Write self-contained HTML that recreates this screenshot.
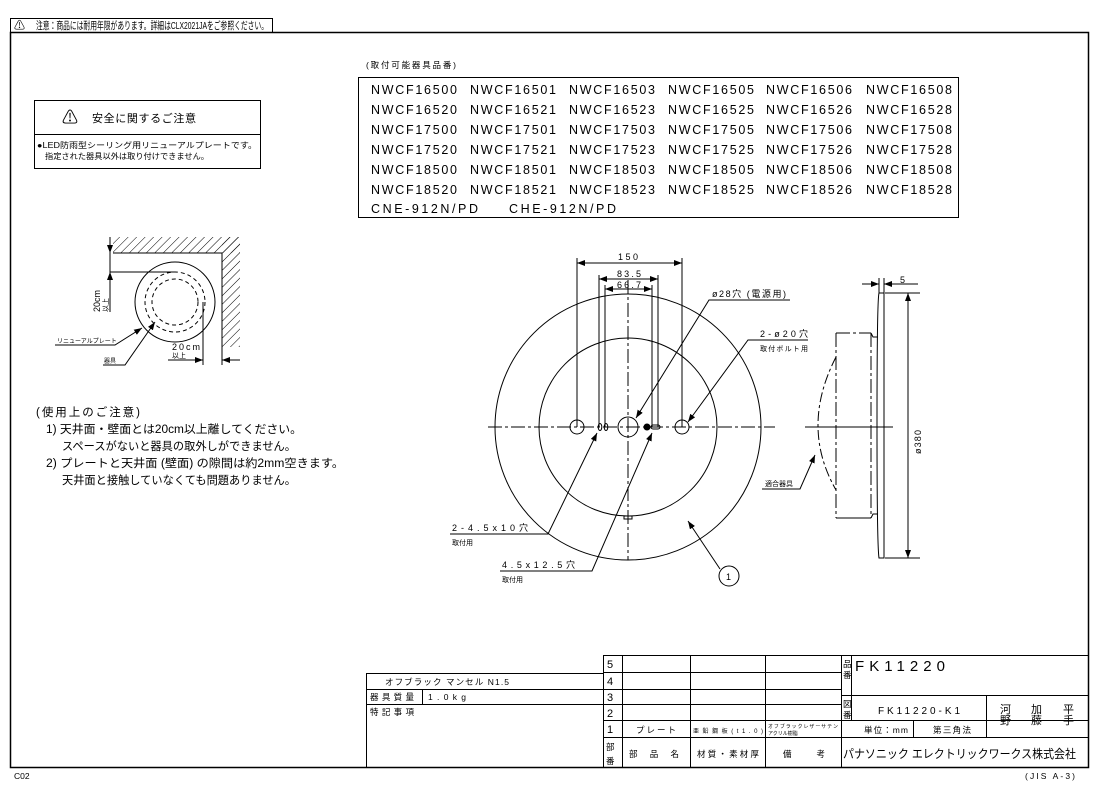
<!DOCTYPE html>
<html><head><meta charset="utf-8"><style>
body{margin:0;background:#fff}
svg{display:block}
text{font-family:"Liberation Sans","Noto Sans CJK JP",sans-serif;fill:#000}
</style></head><body>
<svg width="1100" height="788" viewBox="0 0 1100 788" xmlns="http://www.w3.org/2000/svg">
<defs>
<pattern id="h" width="6" height="6" patternUnits="userSpaceOnUse" patternTransform="rotate(45)"><line x1="0" y1="0" x2="0" y2="6" stroke="#000" stroke-width="1"/></pattern>
<marker id="a" markerWidth="8" markerHeight="6" refX="8" refY="3" orient="auto"><path d="M0,0 L8,3 L0,6 z" fill="#000"/></marker>
<marker id="b" markerWidth="8" markerHeight="6" refX="0" refY="3" orient="auto"><path d="M8,0 L0,3 L8,6 z" fill="#000"/></marker>
</defs>
<g fill="none" stroke="#000" stroke-width="1">
<rect x="10.5" y="32.5" width="1078" height="735" stroke-width="1.5"/>
<polyline points="10.5,32.5 10.5,18.5 272.5,18.5 272.5,32.5"/>
<rect x="34.5" y="100.5" width="226" height="68"/>
<line x1="34.5" y1="134.5" x2="260.5" y2="134.5"/>
<rect x="358.5" y="77.5" width="600" height="140"/>
<rect x="113" y="237" width="127" height="16" fill="url(#h)" stroke="none"/>
<rect x="222" y="237" width="18" height="110" fill="url(#h)" stroke="none"/>
<polyline points="113,253 222,253 222,347"/>
<circle cx="175" cy="302" r="40"/>
<circle cx="175" cy="302" r="30" stroke-dasharray="4,3"/>
<circle cx="175" cy="302" r="23" stroke-dasharray="4,3"/>
<line x1="110" y1="237" x2="110" y2="312"/>
<line x1="110" y1="272" x2="175" y2="272"/>
<line x1="110" y1="246" x2="110" y2="253" marker-end="url(#a)"/>
<line x1="110" y1="280" x2="110" y2="272" marker-end="url(#a)"/>
<line x1="203" y1="302" x2="203" y2="365"/>
<line x1="222" y1="347" x2="222" y2="365"/>
<line x1="168" y1="360" x2="203" y2="360" marker-end="url(#a)"/>
<line x1="240" y1="360" x2="222" y2="360" marker-end="url(#a)"/>
<polyline points="55,345 115,345 142,328" marker-end="url(#a)"/>
<polyline points="103,365 125,365 155,322" marker-end="url(#a)"/>
<circle cx="628" cy="427" r="133"/>
<circle cx="628" cy="427" r="89"/>
<line x1="488" y1="427" x2="775" y2="427" stroke-dasharray="14,3,3,3"/>
<line x1="628" y1="280" x2="628" y2="560" stroke-dasharray="14,3,3,3"/>
<circle cx="577" cy="427" r="7"/>
<circle cx="682" cy="427" r="7"/>
<circle cx="628" cy="427" r="10"/>
<ellipse cx="600" cy="427" rx="1.8" ry="3.5"/>
<ellipse cx="606" cy="427" rx="1.8" ry="3.5"/>
<circle cx="647" cy="427" r="3" fill="#000"/>
<rect x="651" y="425" width="9" height="4" rx="2"/>
<rect x="624" y="516" width="8" height="3"/>
<line x1="577" y1="258" x2="577" y2="427"/>
<line x1="682" y1="258" x2="682" y2="427"/>
<line x1="599" y1="275" x2="599" y2="427"/>
<line x1="658" y1="275" x2="658" y2="427"/>
<line x1="605" y1="285" x2="605" y2="427"/>
<line x1="652" y1="285" x2="652" y2="427"/>
<line x1="577" y1="263" x2="682" y2="263" marker-start="url(#b)" marker-end="url(#a)"/>
<line x1="599" y1="279" x2="658" y2="279" marker-start="url(#b)" marker-end="url(#a)"/>
<line x1="605" y1="289" x2="652" y2="289" marker-start="url(#b)" marker-end="url(#a)"/>
<polyline points="790,300 709,300 636,418" marker-end="url(#a)"/>
<polyline points="808,340 748,340 688,422" marker-end="url(#a)"/>
<polyline points="450,534 548,534 597,433" marker-end="url(#a)"/>
<polyline points="500,571 592,571 652,433" marker-end="url(#a)"/>
<line x1="720" y1="569" x2="688" y2="521" marker-end="url(#a)"/>
<circle cx="729" cy="576" r="10"/>
<path d="M879,293 L884,293 L884,558 L879,558 Q877,545 877,425 Q877,300 879,293 z"/>
<line x1="836" y1="333" x2="871" y2="333" stroke-dasharray="14,3,3,3"/>
<line x1="836" y1="518" x2="871" y2="518"/>
<line x1="836" y1="333" x2="836" y2="518" stroke-dasharray="14,3,3,3"/>
<line x1="871" y1="333" x2="871" y2="518" stroke-dasharray="14,3,3,3"/>
<polyline points="871,333 873,337 878,337"/>
<polyline points="871,518 873,514 878,514"/>
<path d="M836,357 Q800,427 836,490" stroke-dasharray="10,3,3,3"/>
<line x1="805" y1="427" x2="893" y2="427"/>
<line x1="885" y1="293" x2="920" y2="293"/>
<line x1="885" y1="558" x2="920" y2="558"/>
<line x1="908" y1="293" x2="908" y2="558" marker-start="url(#b)" marker-end="url(#a)"/>
<line x1="879" y1="278" x2="879" y2="293"/>
<line x1="884" y1="278" x2="884" y2="293"/>
<line x1="862" y1="284" x2="879" y2="284" marker-end="url(#a)"/>
<line x1="918" y1="284" x2="884" y2="284" marker-end="url(#a)"/>
<polyline points="762,489 800,489 815,455" marker-end="url(#a)"/>
<rect x="366.5" y="673.5" width="237" height="94"/>
<line x1="366.5" y1="689.5" x2="603.5" y2="689.5"/>
<line x1="366.5" y1="704.5" x2="603.5" y2="704.5"/>
<line x1="422.5" y1="689.5" x2="422.5" y2="704.5"/>
<rect x="603.5" y="655.5" width="485" height="112"/>
<line x1="622.5" y1="655.5" x2="622.5" y2="767.5"/>
<line x1="690.5" y1="655.5" x2="690.5" y2="767.5"/>
<line x1="765.5" y1="655.5" x2="765.5" y2="767.5"/>
<line x1="841.5" y1="655.5" x2="841.5" y2="767.5"/>
<line x1="851.5" y1="655.5" x2="851.5" y2="720.5"/>
<line x1="603.5" y1="672.5" x2="841.5" y2="672.5"/>
<line x1="603.5" y1="689.5" x2="841.5" y2="689.5"/>
<line x1="603.5" y1="704.5" x2="841.5" y2="704.5"/>
<line x1="603.5" y1="720.5" x2="1088.5" y2="720.5"/>
<line x1="603.5" y1="737.5" x2="1088.5" y2="737.5"/>
<line x1="841.5" y1="695.5" x2="1088.5" y2="695.5"/>
<line x1="986.5" y1="695.5" x2="986.5" y2="737.5"/>
<line x1="913.5" y1="720.5" x2="913.5" y2="737.5"/>
</g>
<g font-size="9">
<text x="14" y="29" font-size="11">⚠</text>
<text x="36" y="29" font-size="10.5" textLength="232" lengthAdjust="spacingAndGlyphs">注意：商品には耐用年限があります。詳細はCLX2021JAをご参照ください。</text>
<text x="62" y="123" font-size="16">⚠</text>
<text x="92" y="122" font-size="11" textLength="104">安全に関するご注意</text>
<text x="37" y="148" font-size="8" textLength="220" lengthAdjust="spacingAndGlyphs">●LED防雨型シーリング用リニューアルプレートです。</text>
<text x="45" y="159" font-size="8" textLength="164" lengthAdjust="spacingAndGlyphs">指定された器具以外は取り付けできません。</text>
<text x="366" y="68" font-size="8.5" textLength="90">(取付可能器具品番)</text>
</g>
<g font-size="12.5">
<text x="371" y="94" textLength="86">NWCF16500</text><text x="470" y="94" textLength="86">NWCF16501</text><text x="569" y="94" textLength="86">NWCF16503</text><text x="668" y="94" textLength="86">NWCF16505</text><text x="766" y="94" textLength="86">NWCF16506</text><text x="866" y="94" textLength="86">NWCF16508</text>
<text x="371" y="114" textLength="86">NWCF16520</text><text x="470" y="114" textLength="86">NWCF16521</text><text x="569" y="114" textLength="86">NWCF16523</text><text x="668" y="114" textLength="86">NWCF16525</text><text x="766" y="114" textLength="86">NWCF16526</text><text x="866" y="114" textLength="86">NWCF16528</text>
<text x="371" y="134" textLength="86">NWCF17500</text><text x="470" y="134" textLength="86">NWCF17501</text><text x="569" y="134" textLength="86">NWCF17503</text><text x="668" y="134" textLength="86">NWCF17505</text><text x="766" y="134" textLength="86">NWCF17506</text><text x="866" y="134" textLength="86">NWCF17508</text>
<text x="371" y="154" textLength="86">NWCF17520</text><text x="470" y="154" textLength="86">NWCF17521</text><text x="569" y="154" textLength="86">NWCF17523</text><text x="668" y="154" textLength="86">NWCF17525</text><text x="766" y="154" textLength="86">NWCF17526</text><text x="866" y="154" textLength="86">NWCF17528</text>
<text x="371" y="174" textLength="86">NWCF18500</text><text x="470" y="174" textLength="86">NWCF18501</text><text x="569" y="174" textLength="86">NWCF18503</text><text x="668" y="174" textLength="86">NWCF18505</text><text x="766" y="174" textLength="86">NWCF18506</text><text x="866" y="174" textLength="86">NWCF18508</text>
<text x="371" y="194" textLength="86">NWCF18520</text><text x="470" y="194" textLength="86">NWCF18521</text><text x="569" y="194" textLength="86">NWCF18523</text><text x="668" y="194" textLength="86">NWCF18525</text><text x="766" y="194" textLength="86">NWCF18526</text><text x="866" y="194" textLength="86">NWCF18528</text>
<text x="371" y="213" textLength="107">CNE-912N/PD</text><text x="509" y="213" textLength="107">CHE-912N/PD</text>
</g>
<g font-size="7">
<text transform="translate(100,312) rotate(-90)" font-size="9">20cm</text>
<text transform="translate(108,312) rotate(-90)">以上</text>
<text x="57" y="343" font-size="6">リニューアルプレート</text>
<text x="104" y="363" font-size="6">器具</text>
<text x="172" y="350" font-size="9" textLength="28">20cm</text>
<text x="172" y="358">以上</text>
</g>
<g font-size="11.5">
<text x="36" y="416" textLength="104">(使用上のご注意)</text>
<text x="46" y="433" textLength="256" lengthAdjust="spacingAndGlyphs">1) 天井面・壁面とは20cm以上離してください。</text>
<text x="62" y="450" textLength="234" lengthAdjust="spacingAndGlyphs">スペースがないと器具の取外しができません。</text>
<text x="46" y="467" textLength="298" lengthAdjust="spacingAndGlyphs">2) プレートと天井面 (壁面) の隙間は約2mm空きます。</text>
<text x="62" y="484" textLength="234" lengthAdjust="spacingAndGlyphs">天井面と接触していなくても問題ありません。</text>
</g>
<g font-size="9">
<text x="618" y="260" textLength="20">150</text>
<text x="617" y="277" textLength="24">83.5</text>
<text x="617" y="288" textLength="24">66.7</text>
<text x="712" y="297" textLength="74">ø28穴 (電源用)</text>
<text x="760" y="337" textLength="48">2-ø20穴</text>
<text x="760" y="351" font-size="7" textLength="48">取付ボルト用</text>
<text x="452" y="531" textLength="76">2-4.5x10穴</text>
<text x="452" y="545" font-size="7">取付用</text>
<text x="502" y="568" textLength="73">4.5x12.5穴</text>
<text x="502" y="582" font-size="7">取付用</text>
<text x="726" y="580">1</text>
<text x="900" y="283">5</text>
<text transform="translate(921,454) rotate(-90)" textLength="24">ø380</text>
<text x="765" y="486" font-size="7">適合器具</text>
</g>
<g font-size="8.5">
<text x="385" y="685" textLength="124">オフブラック マンセル N1.5</text>
<text x="370" y="700" textLength="44">器具質量</text>
<text x="428" y="700" textLength="38">1.0kg</text>
<text x="370" y="715" textLength="44">特記事項</text>
<text x="607" y="668" font-size="11">5</text>
<text x="607" y="685" font-size="11">4</text>
<text x="607" y="701" font-size="11">3</text>
<text x="607" y="717" font-size="11">2</text>
<text x="607" y="733" font-size="11">1</text>
<text x="606" y="750">部</text>
<text x="606" y="764">番</text>
<text x="636" y="733" textLength="40">プレート</text>
<text x="693" y="733" font-size="6" textLength="70">亜鉛鋼板(t1.0)</text>
<text x="768" y="728" font-size="5" textLength="70">オフブラックレザーサテン</text>
<text x="768" y="735" font-size="5">アクリル樹脂</text>
<text x="629" y="757" textLength="50">部 品 名</text>
<text x="697" y="757" textLength="62">材質・素材厚</text>
<text x="783" y="757" textLength="42">備  考</text>
<text x="843" y="667">品</text>
<text x="843" y="678">番</text>
<text x="855" y="671" font-size="15" textLength="90">FK11220</text>
<text x="843" y="707">図</text>
<text x="843" y="718">番</text>
<text x="878" y="714" font-size="10" textLength="82">FK11220-K1</text>
<text x="864" y="733" textLength="44">単位：mm</text>
<text x="933" y="733" textLength="38">第三角法</text>
<text x="1000" y="713" font-size="11">河</text>
<text x="1000" y="724" font-size="11">野</text>
<text x="1031" y="713" font-size="11">加</text>
<text x="1031" y="724" font-size="11">藤</text>
<text x="1063" y="713" font-size="11">平</text>
<text x="1063" y="724" font-size="11">手</text>
<text x="843" y="758" font-size="12" textLength="233" lengthAdjust="spacingAndGlyphs">パナソニック エレクトリックワークス株式会社</text>
<text x="14" y="779">C02</text>
<text x="1025" y="779" textLength="50">(JIS A-3)</text>
</g>
</svg>
</body></html>
